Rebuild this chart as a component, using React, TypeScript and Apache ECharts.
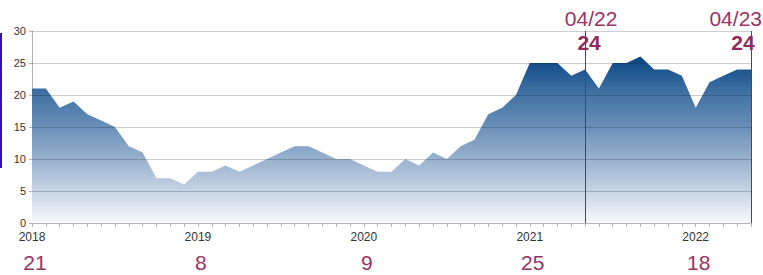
import React, { useEffect, useRef } from "react";
import * as echarts from "echarts";

const months = [
  "2018-01", "2018-02", "2018-03", "2018-04", "2018-05", "2018-06", "2018-07", "2018-08", "2018-09", "2018-10", "2018-11", "2018-12",
  "2019-01", "2019-02", "2019-03", "2019-04", "2019-05", "2019-06", "2019-07", "2019-08", "2019-09", "2019-10", "2019-11", "2019-12",
  "2020-01", "2020-02", "2020-03", "2020-04", "2020-05", "2020-06", "2020-07", "2020-08", "2020-09", "2020-10", "2020-11", "2020-12",
  "2021-01", "2021-02", "2021-03", "2021-04", "2021-05", "2021-06", "2021-07", "2021-08", "2021-09", "2021-10", "2021-11", "2021-12",
  "2022-01", "2022-02", "2022-03", "2022-04", "2022-05",
];

const values = [
  21, 21, 18, 19, 17, 16, 15, 12, 11, 7, 7, 6,
  8, 8, 9, 8, 9, 10, 11, 12, 12, 11, 10, 10,
  9, 8, 8, 10, 9, 11, 10, 12, 13, 17, 18, 20,
  25, 25, 25, 23, 24, 21, 25, 25, 26, 24, 24, 23,
  18, 22, 23, 24, 24,
];

const gridLineValues = [5, 10, 15, 20, 25, 30];
const annotationIndices = [40, 52];
const annotationLabels = ["04/22", "04/23"];

const FONT = "'Liberation Sans', Arial, sans-serif";
const ACCENT = "#993366";

export default function App() {
  const ref = useRef<HTMLDivElement>(null);

  useEffect(() => {
    if (!ref.current) return;
    const chart = echarts.init(ref.current, null, { renderer: "svg" });
    const option: any = {
      animation: false,
      grid: { left: 32, right: 12, top: 31, bottom: 52 },
      xAxis: [
        {
          type: "category",
          data: months,
          boundaryGap: false,
          axisLine: { lineStyle: { color: "#b5b5b5" } },
          axisTick: { show: true, interval: 0, length: 4, lineStyle: { color: "#b5b5b5" } },
          axisLabel: {
            interval: (i: number) => i % 12 === 0,
            formatter: (v: string) => v.slice(0, 4),
            color: "#333",
            fontSize: 12,
            fontFamily: FONT,
            margin: 8,
          },
          splitLine: { show: false },
        },
        {
          type: "category",
          data: months,
          boundaryGap: false,
          position: "bottom",
          axisLine: { show: false },
          axisTick: { show: false },
          axisLabel: {
            interval: (i: number) => i % 12 === 0,
            formatter: (_v: string, i: number) => String(values[i]),
            color: ACCENT,
            fontSize: 21,
            fontFamily: FONT,
            margin: 29,
            padding: [0, 0, 0, 6],
          },
          splitLine: { show: false },
        },
      ],
      yAxis: {
        type: "value",
        min: 0,
        max: 30,
        interval: 5,
        axisLine: { show: true, lineStyle: { color: "#b5b5b5" } },
        axisTick: { show: true, length: 3, lineStyle: { color: "#b5b5b5" } },
        axisLabel: { color: "#333", fontSize: 11, fontFamily: FONT, margin: 6 },
        splitLine: { show: false },
      },
      series: [
        {
          type: "line",
          data: values,
          symbol: "none",
          lineStyle: { width: 0 },
          areaStyle: {
            opacity: 1,
            color: new echarts.graphic.LinearGradient(0, 0, 0, 1, [
              { offset: 0, color: "#0a4584" },
              { offset: 0.2, color: "#3c6ea1" },
              { offset: 0.42, color: "#6a8fb8" },
              { offset: 0.8, color: "#c4d2e3" },
              { offset: 1, color: "#f7f9fc" },
            ]),
          },
          markLine: {
            silent: true,
            symbol: ["none", "none"],
            label: { show: false },
            data: [
              ...gridLineValues.map((v) => ({
                yAxis: v,
                lineStyle: { color: "rgba(0,0,0,0.19)", width: 1, type: "solid" },
              })),
              ...annotationIndices.map((i) => ({
                xAxis: months[i],
                lineStyle: { color: "#4a4a4a", width: 1, type: "solid" },
              })),
            ],
          },
        },
      ],
    };
    chart.setOption(option);

    const graphics: any[] = [
      {
        type: "rect",
        shape: { x: 0, y: 33, width: 2, height: 135 },
        style: { fill: "#3412b0" },
      },
    ];
    annotationIndices.forEach((idx, k) => {
      const [px] = chart.convertToPixel({ xAxisIndex: 0, yAxisIndex: 0 }, [months[idx], values[idx]]);
      const last = k === annotationIndices.length - 1;
      graphics.push({
        type: "text",
        x: last ? px + 11 : px + 6,
        y: 8,
        z: 10,
        style: {
          text: annotationLabels[k],
          fill: ACCENT,
          font: `21px ${FONT}`,
          textAlign: last ? "right" : "center",
          textVerticalAlign: "top",
        },
      });
      graphics.push({
        type: "text",
        x: last ? px - 8 : px + 4,
        y: 32,
        z: 10,
        style: {
          text: String(values[idx]),
          fill: "#8e2a5f",
          font: `bold 21px ${FONT}`,
          textAlign: "center",
          textVerticalAlign: "top",
        },
      });
    });
    chart.setOption({ graphic: graphics });

    return () => chart.dispose();
  }, []);

  return (
    <div
      ref={ref}
      style={{ position: "fixed", left: 0, top: 0, width: 763, height: 275, background: "#fff" }}
    />
  );
}
